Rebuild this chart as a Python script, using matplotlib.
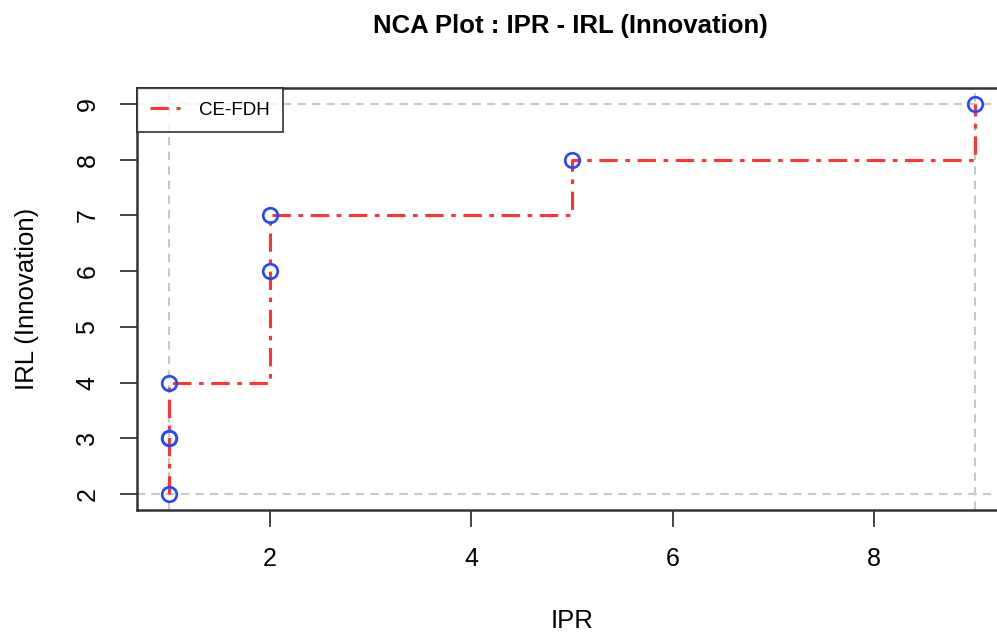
import matplotlib
matplotlib.use("Agg")
import matplotlib.pyplot as plt

plt.rcParams["font.family"] = ["Liberation Sans", "DejaVu Sans"]

# observations
ipr = [1, 1, 1, 1, 2, 2, 5, 9]
irl = [2, 3, 3, 4, 6, 7, 8, 9]

# CE-FDH ceiling (step corners)
ce_x = [1, 1, 2, 2, 5, 5, 9, 9]
ce_y = [2, 4, 4, 7, 7, 8, 8, 9]

x_ticks = [2, 4, 6, 8]
y_ticks = [2, 3, 4, 5, 6, 7, 8, 9]

fig = plt.figure(figsize=(9.97, 6.35), dpi=100)
ax = fig.add_axes([0.1374, 0.1975, 0.8726, 0.6633])

# scope lines
for v in (1, 9):
    ax.axvline(v, color="#c8c8c8", linestyle=(0, (4, 3)), linewidth=1.5, zorder=1)
for h in (2, 9):
    ax.axhline(h, color="#c8c8c8", linestyle=(0, (4, 3)), linewidth=1.5, zorder=1)

ax.plot(ce_x, ce_y, color="#ff3333", linestyle=(0, (6, 2.5, 1.5, 2.5)),
        linewidth=2.2, label="CE-FDH", zorder=2)
ax.plot(ipr, irl, linestyle="none", marker="o", markersize=10.5,
        markerfacecolor="none", markeredgecolor="#2447ff", markeredgewidth=1.9, zorder=3)

ax.set_xlim(0.68, 9.32)
ax.set_ylim(1.72, 9.28)
ax.set_xticks(x_ticks)
ax.set_yticks(y_ticks)
ax.tick_params(direction="out", length=12, width=1.4, labelsize=18, pad=15, color="#444444")
for lab in ax.get_yticklabels():
    lab.set_rotation(90)
    lab.set_va("center")
for s in ax.spines.values():
    s.set_linewidth(1.8)
    s.set_color("#333333")

ax.set_xlabel("IPR", fontsize=18.5)
ax.xaxis.set_label_coords(0.5, -0.2645)
ax.xaxis.label.set_va("center")
ax.set_ylabel("IRL (Innovation)", fontsize=18.5)
ax.yaxis.set_label_coords(-0.1264, 0.5)
ax.yaxis.label.set_va("center")
fig.text(570 / 997, 1 - 26 / 635, "NCA Plot : IPR - IRL (Innovation)",
         fontsize=18.5, fontweight="bold", ha="center", va="center")

leg = ax.legend(loc="upper left", fontsize=13.5, frameon=True, fancybox=False,
                borderaxespad=0, handlelength=1.6, borderpad=0.7, handletextpad=1.0)
leg.get_frame().set_edgecolor("#222222")
leg.get_frame().set_linewidth(1.4)

fig.savefig("out.png", dpi=100)
